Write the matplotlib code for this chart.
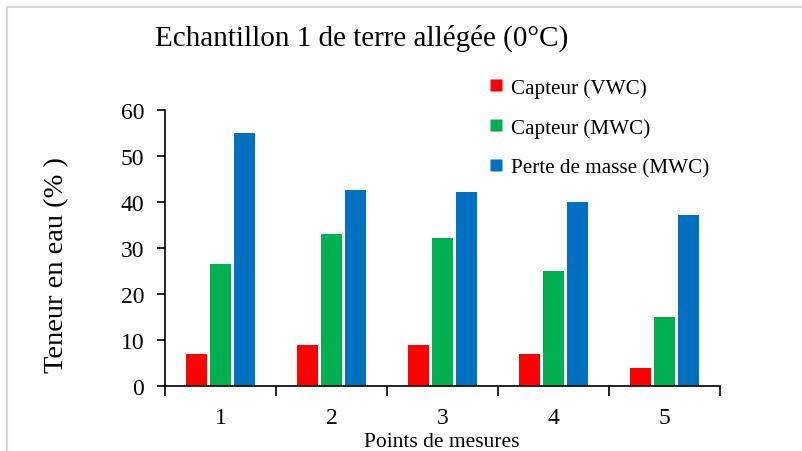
import numpy as np
import matplotlib
matplotlib.use("Agg")
import matplotlib.pyplot as plt
from matplotlib.lines import Line2D

plt.rcParams['font.family'] = ['Liberation Serif', 'DejaVu Serif']

# data
points = ["1", "2", "3", "4", "5"]
capteur_vwc = [7.0, 8.9, 8.9, 6.9, 3.9]
capteur_mwc = [26.6, 33.1, 32.1, 25.1, 15.1]
perte_masse = [55.1, 42.6, 42.1, 40.1, 37.1]
series_names = ["Capteur (VWC)", "Capteur (MWC)", "Perte de masse (MWC)"]
colors = ["#FF0000", "#00B050", "#0070C0"]

fig = plt.figure(figsize=(8.02, 4.52), dpi=100)
ax = fig.add_axes([165 / 802, 1 - 387 / 452, 555 / 802, 276 / 452])

x = np.arange(1, len(points) + 1)
offset = 0.22
width = 0.19
for i, vals in enumerate([capteur_vwc, capteur_mwc, perte_masse]):
    ax.bar(x + (i - 1) * offset, vals, width, color=colors[i], label=series_names[i], zorder=2)

ax.set_xlim(0.5, 5.5)
ax.set_ylim(0, 60)
ax.set_yticks(range(0, 61, 10))
ax.set_xticks(x)
ax.set_xticklabels(points)
# group separators as minor ticks
ax.set_xticks(np.arange(0.5, 5.6, 1.0), minor=True)
ax.tick_params(axis='x', which='major', length=0, pad=15, labelsize=17)
ax.tick_params(axis='x', which='minor', length=7, width=1.2, direction='out')
ax.tick_params(axis='y', length=6, width=1.2, direction='out', pad=9, labelsize=17)

ax.spines['top'].set_visible(False)
ax.spines['right'].set_visible(False)
ax.spines['left'].set_linewidth(1.2)
ax.spines['bottom'].set_linewidth(1.2)

fig.text(362 / 802, 1 - 38 / 452, "Echantillon 1 de terre allégée (0°C)",
         ha='center', va='center', fontsize=21)
fig.text(57 / 802, 1 - 265 / 452, "Teneur en eau (% )", rotation=90,
         ha='center', va='center', fontsize=20.5)
fig.text(442 / 802, 1 - 443 / 452, "Points de mesures",
         ha='center', va='center', fontsize=15.5)

handles = [Line2D([0], [0], marker='s', color='none', markerfacecolor=c,
                  markeredgecolor='none', markersize=8) for c in colors]
fig.legend(handles, series_names, loc='upper left',
           bbox_to_anchor=(469 / 802, 1 - 60 / 452), frameon=False,
           fontsize=15.2, handlelength=0.8, handletextpad=0.3, labelspacing=0.95)

# light frame of the chart area
fig.add_artist(Line2D([7 / 802, 1], [1 - 8 / 452, 1 - 8 / 452], color='#d9d9d9', lw=1.5))
fig.add_artist(Line2D([7 / 802, 7 / 802], [0, 1 - 8 / 452], color='#d9d9d9', lw=1.5))

fig.savefig("out.png", dpi=100)
